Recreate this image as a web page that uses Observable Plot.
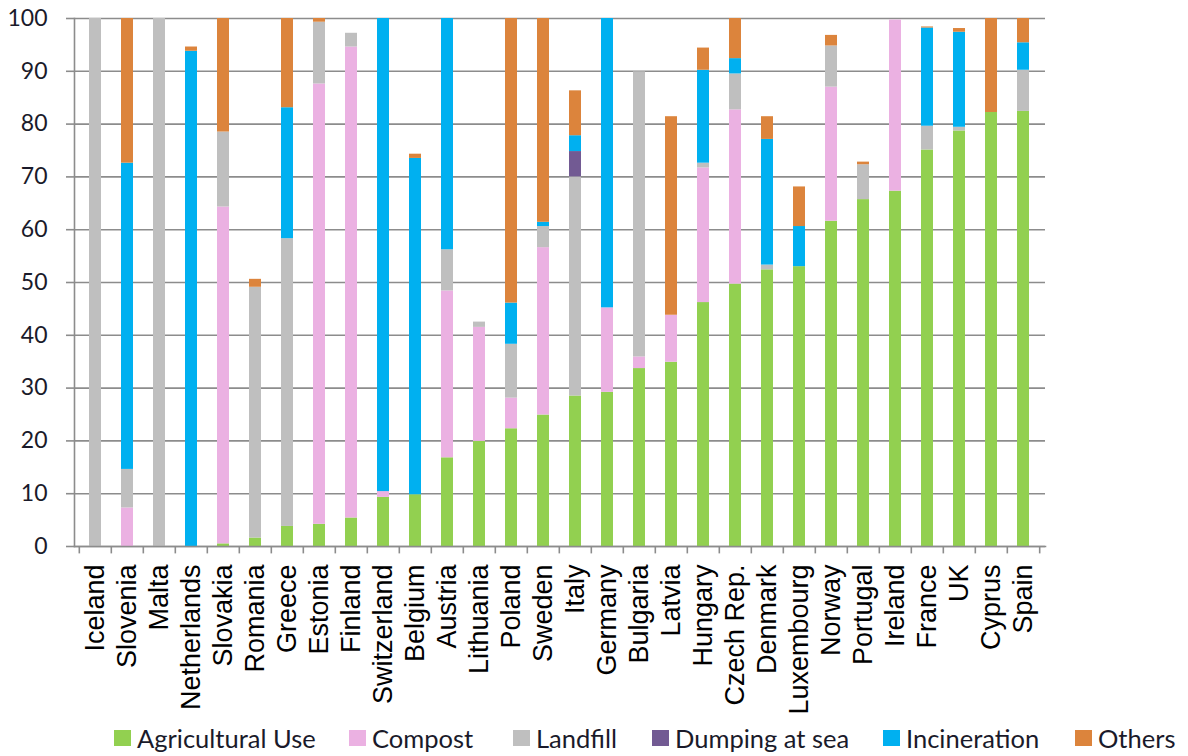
<!DOCTYPE html>
<html><head><meta charset="utf-8">
<script src="https://cdn.jsdelivr.net/npm/d3@7"></script>
<script src="https://cdn.jsdelivr.net/npm/@observablehq/plot@0.6"></script>
<style>
body{margin:0;background:#fff;}
#wrap{position:relative;width:1188px;height:756px;overflow:hidden;}
#legend{position:absolute;left:0;top:720px;width:1188px;height:36px;font-family:Lato,'Open Sans',sans-serif;font-size:25.5px;color:#1a1a2a;}
.item{position:absolute;top:0;display:flex;align-items:center;height:36px;white-space:nowrap;}
.sw{width:17px;height:16px;margin-right:6px;}
</style></head><body>
<div id="wrap"><div id="chart"></div><div id="legend"></div></div>
<script>
const countries = ["Iceland","Slovenia","Malta","Netherlands","Slovakia","Romania","Greece","Estonia","Finland","Switzerland","Belgium","Austria","Lithuania","Poland","Sweden","Italy","Germany","Bulgaria","Latvia","Hungary","Czech Rep.","Denmark","Luxembourg","Norway","Portugal","Ireland","France","UK","Cyprus","Spain"];
const types = ["Agricultural Use","Compost","Landfill","Dumping at sea","Incineration","Others"];
const colors = ["#92D050","#EBB1E2","#BFBFBF","#725A93","#00B0F0","#DC843C"];
const agricultural = [0,0,0,0,0.5,1.6,3.8,4.2,5.4,9.3,9.8,16.8,19.9,22.3,24.9,28.5,29.2,33.7,34.9,46.2,49.7,52.4,53.0,61.6,65.7,67.3,75.1,78.7,82.2,82.4];
const compost      = [0,7.3,0,0,63.8,0,0,83.4,89.2,1.1,0,31.6,21.6,5.8,31.7,0,16.0,2.2,8.9,25.5,33.0,0,0,25.4,0,32.4,0,0,0,0];
const landfill     = [100,7.3,100,0,14.2,47.5,54.5,11.7,2.6,0,0,7.8,1.0,10.2,4.0,41.5,0,54.0,0,0.9,6.8,0.9,0,7.8,6.6,0,4.5,0.7,0,7.8];
const dumping      = [0,0,0,0,0,0,0,0,0,0,0,0,0,0,0,4.8,0,0,0,0,0,0,0,0,0,0,0,0,0,0];
const incineration = [0,58.0,0,93.8,0,0,24.8,0,0,89.6,63.7,43.8,0,7.8,0.8,3.0,54.8,0,0,17.6,2.9,23.8,7.6,0,0,0,18.6,18.0,0,5.2];
const others       = [0,27.4,0,0.8,21.5,1.5,16.9,0.7,0,0,0.8,0,0,53.9,38.6,8.5,0,0,37.6,4.2,7.6,4.3,7.5,2.0,0.5,0,0.2,0.7,17.8,4.6];
const yTicks = [0,10,20,30,40,50,60,70,80,90,100];

const series = [agricultural, compost, landfill, dumping, incineration, others];
const rows = [];
countries.forEach((c,i)=>{ types.forEach((t,j)=>{ rows.push({country:c, type:t, value:series[j][i]}); }); });

const W=1188, H=719, ML=74, MR=143, MT=18, MB=173;
const step = (W-ML-MR)/countries.length;
const grid = "#8c8c8c";

const chart = Plot.plot({
  width:W, height:H, marginLeft:ML, marginRight:MR, marginTop:MT, marginBottom:MB,
  style:{fontFamily:"'Liberation Sans', Arial, sans-serif", color:"#000", background:"#fff", overflow:"visible"},
  x:{domain:countries, paddingInner:0.62, paddingOuter:0.31, label:null},
  y:{domain:[0,100], ticks:yTicks, label:null},
  color:{domain:types, range:colors},
  marks:[
    Plot.gridY(yTicks,{stroke:grid, strokeOpacity:1, strokeWidth:1.6}),
    Plot.barY(rows,{x:"country", y:"value", fill:"type", order:types}),
    Plot.frame({anchor:"left", stroke:grid, strokeWidth:1.6}),
    Plot.frame({anchor:"bottom", stroke:grid, strokeWidth:1.6}),
    Plot.axisY(yTicks,{tickSize:8, tickPadding:19, fontSize:23, fontFamily:"Lato, sans-serif", fill:"#1a1a2a", stroke:grid, strokeWidth:1.6, label:null}),
    Plot.axisX({tickSize:0, tickRotate:-90, tickPadding:18, fontSize:27, label:null}),
    Plot.ruleX(countries,{x:d=>d, y1:0, y2:-1.4, dx:-step/2, stroke:grid, strokeWidth:1.6}),
    Plot.ruleX([countries[countries.length-1]],{x:d=>d, y1:0, y2:-1.4, dx:step/2, stroke:grid, strokeWidth:1.6})
  ]
});
document.getElementById("chart").appendChild(chart);

const legendLeft = [114,349,513,652,883,1075];
const legend = document.getElementById("legend");
types.forEach((t,i)=>{
  const it = document.createElement("div");
  it.className="item"; it.style.left = legendLeft[i]+"px";
  const sw = document.createElement("span"); sw.className="sw"; sw.style.background=colors[i];
  const tx = document.createElement("span"); tx.textContent=t;
  it.appendChild(sw); it.appendChild(tx); legend.appendChild(it);
});
</script>
</body></html>
